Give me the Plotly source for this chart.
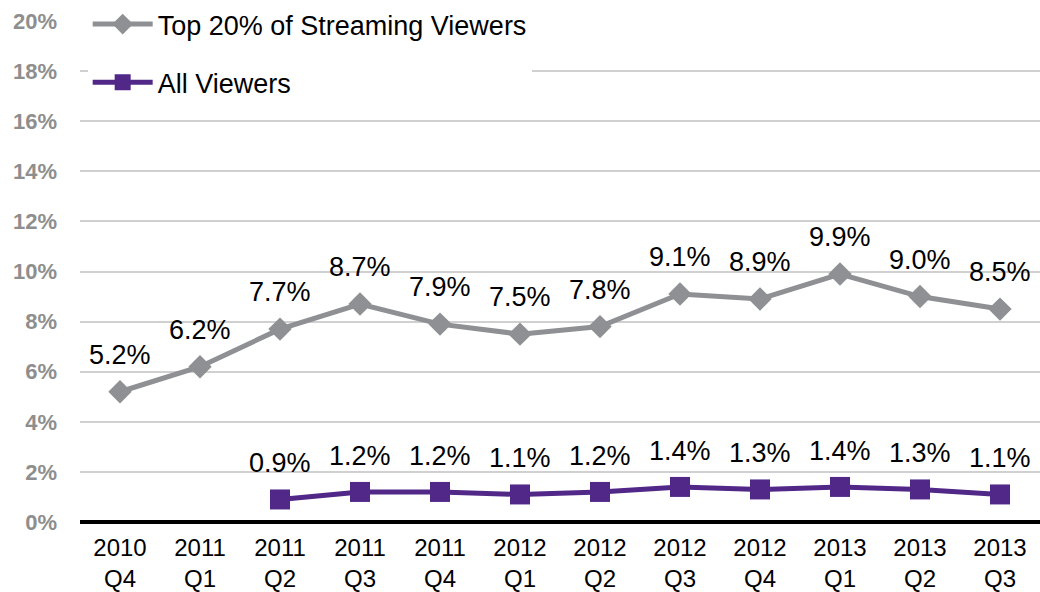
import plotly.graph_objects as go

categories = ["2010<br>Q4", "2011<br>Q1", "2011<br>Q2", "2011<br>Q3", "2011<br>Q4", "2012<br>Q1",
              "2012<br>Q2", "2012<br>Q3", "2012<br>Q4", "2013<br>Q1", "2013<br>Q2", "2013<br>Q3"]
top20 = [5.2, 6.2, 7.7, 8.7, 7.9, 7.5, 7.8, 9.1, 8.9, 9.9, 9.0, 8.5]
all_viewers = [None, None, 0.9, 1.2, 1.2, 1.1, 1.2, 1.4, 1.3, 1.4, 1.3, 1.1]
y_ticks = [0, 2, 4, 6, 8, 10, 12, 14, 16, 18, 20]
y_labels = [f"<b>{v}%</b>" for v in y_ticks]

GRAY = "#8e9093"
PURPLE = "#512888"
FONT = "Liberation Sans, Arial, sans-serif"

fig = go.Figure()
fig.add_trace(go.Scatter(
    x=categories, y=top20, name="Top 20% of Streaming Viewers", mode="lines+markers",
    line=dict(color=GRAY, width=5), marker=dict(symbol="diamond", size=18, color=GRAY),
    legendgroup="a"))
fig.add_trace(go.Scatter(
    x=categories, y=all_viewers, name="All Viewers", mode="lines+markers",
    line=dict(color=PURPLE, width=5), marker=dict(symbol="square", size=20, color=PURPLE),
    legendgroup="b"))

annotations = []
for c, v in zip(categories, top20):
    annotations.append(dict(x=c, y=v, text=f"{v:.1f}%", showarrow=False, yshift=37,
                            font=dict(family=FONT, size=27, color="#000000")))
for c, v in zip(categories, all_viewers):
    if v is None:
        continue
    annotations.append(dict(x=c, y=v, text=f"{v:.1f}%", showarrow=False, yshift=36,
                            font=dict(family=FONT, size=27, color="#000000")))

fig.update_layout(
    width=1040, height=592,
    margin=dict(l=80, r=0, t=21, b=70, autoexpand=False),
    paper_bgcolor="white", plot_bgcolor="white",
    font=dict(family=FONT),
    annotations=annotations,
    showlegend=True,
    legend=dict(x=0.008, y=1.0, yref="container", xanchor="left", yanchor="top", bgcolor="white",
                font=dict(size=27, color="#000000", family=FONT),
                traceorder="grouped", tracegroupgap=20, itemwidth=60),
    xaxis=dict(type="category", range=[-0.5, 11.5], showgrid=False, ticks="",
               tickfont=dict(size=24, color="#000000", family=FONT), showline=False,
               zeroline=False, automargin=False, ticklabelstandoff=9),
    yaxis=dict(range=[0, 20], tickvals=y_ticks, ticktext=y_labels, showgrid=True,
               gridcolor="#d0d0d0", gridwidth=2, zeroline=True, zerolinecolor="#000000",
               zerolinewidth=4, ticks="", ticklabelstandoff=22, automargin=False,
               tickfont=dict(size=22, color="#8e8e8e", family=FONT)),
)
fig.write_html("out.html", post_script="document.body.style.margin='0';",
               config={"displayModeBar": False})
